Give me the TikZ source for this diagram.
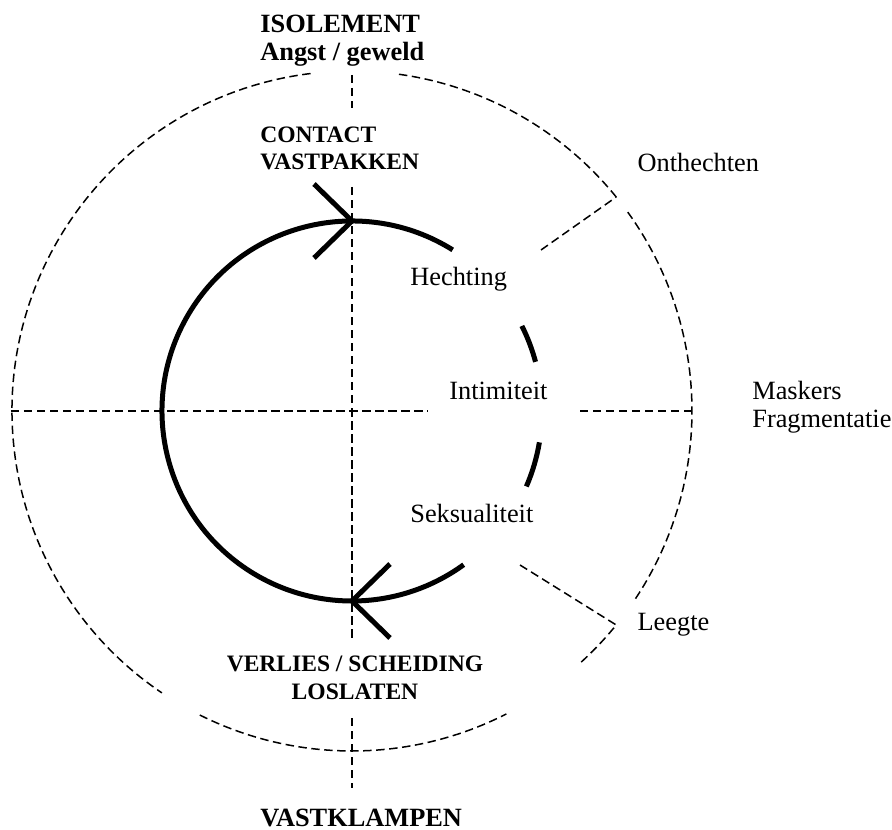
\documentclass[tikz,border=0pt]{standalone}
\usepackage{fontspec}
\setmainfont{Liberation Serif}
\usetikzlibrary{positioning}

\begin{document}
\begin{tikzpicture}[
stippel/.style = {draw, line width = 0.03cm, dash pattern = on 4.8pt off 2.6pt},
dik/.style = {draw, line width = 0.1cm},
kop/.style = {font = \fontsize{15}{16.4}\selectfont\bfseries, inner sep = 0, align = left},
kopklein/.style = {font = \fontsize{13.4}{15.6}\selectfont\bfseries, inner sep = 0},
tekst/.style = {font = \fontsize{15}{16.4}\selectfont, inner sep = 0, align = left},
]
\useasboundingbox (-7.04, -8.38) rectangle (10.8, 8.22);

% buitenste ring
\draw[stippel] (97:6.8) arc (97:236:6.8);
\draw[stippel] (243.4:6.8) arc (243.4:297:6.8);
\draw[stippel] (312.4:6.8) arc (312.4:321:6.8);
\draw[stippel] (-33.5:6.8) arc (-33.5:35.8:6.8);
\draw[stippel] (39:6.8) arc (39:82.4:6.8);

% assen
\draw[stippel] (-6.82, 0) -- (1.52, 0);
\draw[stippel] (4.56, 0) -- (6.8, 0);
\draw[stippel] (0, 6.72) -- (0, 6.06);
\draw[stippel] (0, 4.48) -- (0, -4.54);
\draw[stippel] (0, -6.14) -- (0, -7.54);

% de cirkel
\coordinate (boven) at (90:3.8);
\coordinate (onder) at (270:3.8);
\draw[dik] (58:3.8) arc (58:306:3.8);
\draw[dik] (15:3.8) arc (15:26.6:3.8);
\draw[dik] (-23.4:3.8) arc (-23.4:-9.5:3.8);
\draw[dik] (boven) ++(-0.76, 0.74) -- (boven) -- +(-0.76, -0.74);
\draw[dik] (onder) ++(0.76, 0.74) -- (onder) -- +(0.76, -0.74);

\node[kop, anchor = base west] (isol) at (-1.84, 7.0) {ISOLEMENT\\Angst / geweld};
\node[kopklein, align = left, anchor = base west] (contact) at (-1.84, 4.82) {CONTACT\\VASTPAKKEN};
\node[kopklein, align = center, anchor = base] (verlies) at (0.06, -5.76) {VERLIES / SCHEIDING\\LOSLATEN};
\node[kop, anchor = base west] (vastk) at (-1.84, -8.3) {VASTKLAMPEN};
\node[tekst, anchor = base west] (hecht) at (1.16, 2.5) {Hechting};
\node[tekst, anchor = base west] (intim) at (1.94, 0.22) {Intimiteit};
\node[tekst, anchor = base west] (seks) at (1.16, -2.22) {Seksualiteit};
\node[tekst, anchor = base west] (mask) at (8.0, -0.34) {Maskers\\Fragmentatie};

\coordinate (onthK) at (39:6.8);
\coordinate (leegK) at (-39:6.8);
\coordinate (onthE) at (3.78, 3.22);
\coordinate (leegE) at (3.36, -3.08);
\draw[stippel] (onthE) -- (onthK);
\draw[stippel] (leegE) -- (leegK);
\node[tekst, above right = 0.5cm and 0.42cm of onthK] (onth) {Onthechten};
\node[tekst, right = 0.42cm of leegK] (leeg) {Leegte};
\end{tikzpicture}
\end{document}
